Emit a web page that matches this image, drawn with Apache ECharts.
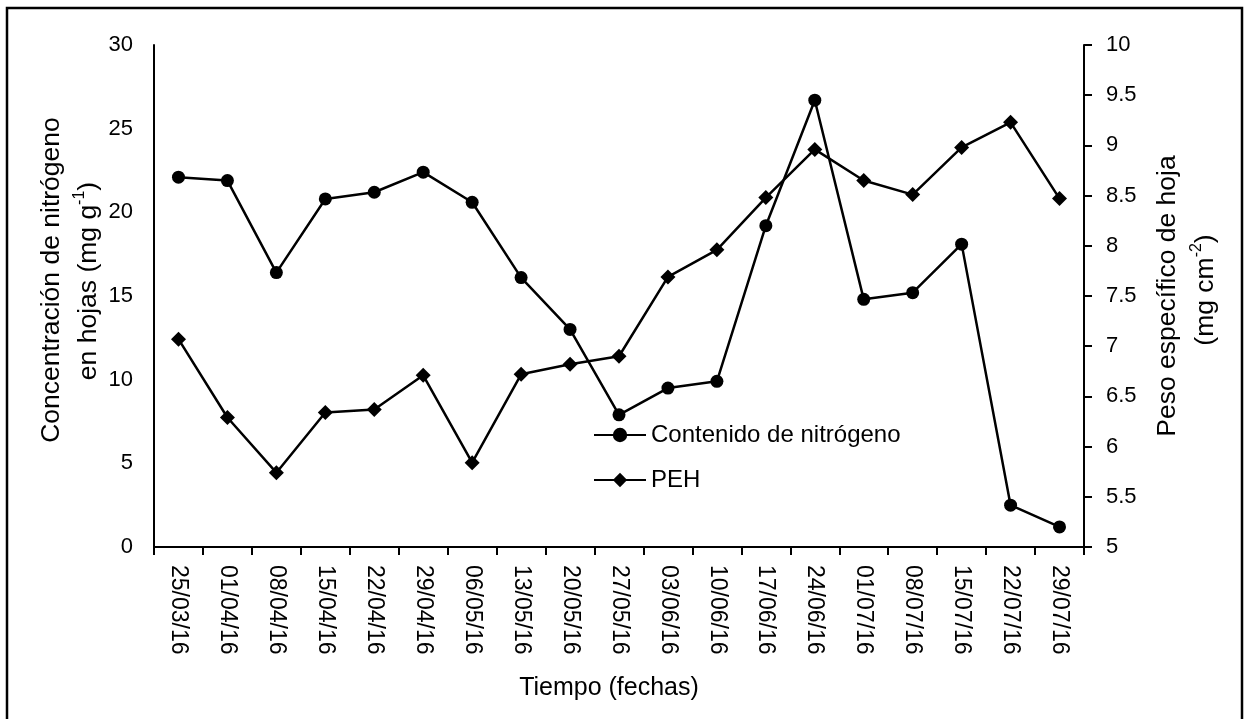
<!DOCTYPE html>
<html>
<head>
<meta charset="utf-8">
<title>Nitrógeno y PEH</title>
<script src="https://cdn.jsdelivr.net/npm/echarts@6/dist/echarts.min.js"></script>
<style>
  html, body { margin: 0; padding: 0; background: #fff; }
  #chart { width: 1244px; height: 719px; }
</style>
</head>
<body>
<div id="chart"></div>
<script>
// Sampling dates
var fechas = ['25/03/16', '01/04/16', '08/04/16', '15/04/16', '22/04/16', '29/04/16',
  '06/05/16', '13/05/16', '20/05/16', '27/05/16', '03/06/16', '10/06/16', '17/06/16',
  '24/06/16', '01/07/16', '08/07/16', '15/07/16', '22/07/16', '29/07/16'];

// Leaf nitrogen concentration (mg g-1), left axis
var nitrogeno = [22.1, 21.9, 16.4, 20.8, 21.2, 22.4, 20.6, 16.1, 13.0, 7.9,
  9.5, 9.9, 19.2, 26.7, 14.8, 15.2, 18.1, 2.5, 1.2];

// Specific leaf weight, PEH (mg cm-2), right axis
var peh = [7.07, 6.29, 5.74, 6.34, 6.37, 6.71, 5.84, 6.72, 6.82, 6.90,
  7.69, 7.96, 8.48, 8.96, 8.65, 8.51, 8.98, 9.23, 8.47];

var FONT = '"Liberation Sans", Arial, sans-serif';
var INK = '#000';

var chart = echarts.init(document.getElementById('chart'), null, { renderer: 'canvas' });

var supRich = {
  n: { fontSize: 26.5, fontFamily: FONT, color: INK, lineHeight: 32, verticalAlign: 'bottom' },
  sup: { fontSize: 16, fontFamily: FONT, color: INK, lineHeight: 32, verticalAlign: 'top', padding: [2, 0, 0, 0] }
};

chart.setOption({
  backgroundColor: '#fff',
  animation: false,
  grid: { left: 154, right: 160, top: 45, bottom: 172, containLabel: false },
  legend: {
    orient: 'vertical',
    left: 593,
    top: 423,
    padding: 0,
    itemWidth: 52,
    itemHeight: 18,
    itemGap: 21,
    textStyle: { fontSize: 24, fontFamily: FONT, color: INK },
    data: ['Contenido de nitrógeno', 'PEH']
  },
  xAxis: {
    type: 'category',
    data: fechas,
    boundaryGap: true,
    axisLine: { lineStyle: { color: INK, width: 2 } },
    axisTick: { show: true, length: 8, inside: false, lineStyle: { color: INK, width: 2 } },
    axisLabel: { rotate: -90, margin: 18, fontSize: 23, fontFamily: FONT, color: INK, interval: 0 }
  },
  yAxis: [
    {
      type: 'value',
      min: 0, max: 30, interval: 5,
      position: 'left',
      splitLine: { show: false },
      axisLine: { show: true, lineStyle: { color: INK, width: 2 } },
      axisTick: { show: false },
      axisLabel: { margin: 21, fontSize: 22, fontFamily: FONT, color: INK }
    },
    {
      type: 'value',
      min: 5, max: 10, interval: 0.5,
      position: 'right',
      splitLine: { show: false },
      axisLine: { show: true, lineStyle: { color: INK, width: 2 } },
      axisTick: { show: true, length: 8, inside: false, lineStyle: { color: INK, width: 2 } },
      axisLabel: { margin: 22, fontSize: 22, fontFamily: FONT, color: INK }
    }
  ],
  series: [
    {
      name: 'Contenido de nitrógeno',
      type: 'line',
      yAxisIndex: 0,
      data: nitrogeno,
      symbol: 'circle',
      symbolSize: 13,
      lineStyle: { color: INK, width: 2.5 },
      itemStyle: { color: INK }
    },
    {
      name: 'PEH',
      type: 'line',
      yAxisIndex: 1,
      data: peh,
      symbol: 'diamond',
      symbolSize: 15,
      lineStyle: { color: INK, width: 2.5 },
      itemStyle: { color: INK }
    }
  ],
  graphic: [
    // outer frame
    {
      type: 'rect',
      shape: { x: 7, y: 8, width: 1235, height: 720 },
      style: { fill: null, stroke: INK, lineWidth: 2.5 },
      silent: true
    },
    // left axis title, two lines
    {
      type: 'text', x: 52, y: 280, rotation: Math.PI / 2,
      style: { text: 'Concentración de nitrógeno', font: '26.5px ' + FONT, fill: INK, align: 'center', verticalAlign: 'middle' }
    },
    {
      type: 'text', x: 86, y: 281, rotation: Math.PI / 2,
      style: { text: '{n|en hojas (mg g}{sup|-1}{n|)}', rich: supRich, align: 'center', verticalAlign: 'middle' }
    },
    // right axis title, two lines
    {
      type: 'text', x: 1168, y: 296, rotation: Math.PI / 2,
      style: { text: 'Peso específico de hoja', font: '26.5px ' + FONT, fill: INK, align: 'center', verticalAlign: 'middle' }
    },
    {
      type: 'text', x: 1203, y: 290, rotation: Math.PI / 2,
      style: { text: '{n|(mg cm}{sup|-2}{n|)}', rich: supRich, align: 'center', verticalAlign: 'middle' }
    },
    // x axis title
    {
      type: 'text', x: 609, y: 688,
      style: { text: 'Tiempo (fechas)', font: '25px ' + FONT, fill: INK, align: 'center', verticalAlign: 'middle' }
    }
  ]
});
</script>
</body>
</html>
